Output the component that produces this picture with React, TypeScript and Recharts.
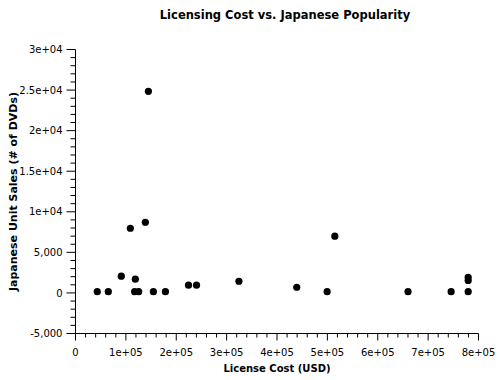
import React from 'react';
import { ScatterChart, Scatter, XAxis, YAxis } from 'recharts';

// license cost in USD
const licenseCost = [
  43200, 65100, 90900, 108900, 117400, 118800, 125400, 138700, 144700, 154600,
  178500, 224300, 240200, 324400, 439200, 499500, 514800, 660100, 745700, 779500,
  779500, 779500,
];

// japanese unit sales (# of DVDs)
const unitSales = [
  150, 150, 2060, 7970, 150, 1690, 150, 8710, 24850, 150,
  150, 950, 950, 1440, 700, 150, 6990, 150, 150, 150,
  1530, 1930,
];

const xMajorTicks = [0, 100000, 200000, 300000, 400000, 500000, 600000, 700000, 800000];
const xTickLabels = ['0', '1e+05', '2e+05', '3e+05', '4e+05', '5e+05', '6e+05', '7e+05', '8e+05'];
const yMajorTicks = [-5000, 0, 5000, 10000, 15000, 20000, 25000, 30000];
const yTickLabels = ['-5,000', '0', '5,000', '1e+04', '1.5e+04', '2e+04', '2.5e+04', '3e+04'];

// minor ticks: every 20000 on x, every 1000 on y
const xTicks = Array.from({ length: 41 }, (_, i) => i * 20000);
const yTicks = Array.from({ length: 36 }, (_, i) => -5000 + i * 1000);

const points = licenseCost.map((cost, i) => ({ cost, sales: unitSales[i] }));

const XTick = (props: any) => {
  const { x, y, payload } = props;
  const idx = xMajorTicks.indexOf(payload.value);
  const major = idx >= 0;
  return (
    <g>
      <line x1={x} x2={x} y1={y} y2={y + (major ? 7 : 4)} stroke="#000" />
      {major && (
        <text x={x} y={y + 22} textAnchor="middle" fontSize={10} fill="#000">
          {xTickLabels[idx]}
        </text>
      )}
    </g>
  );
};

const YTick = (props: any) => {
  const { x, y, payload } = props;
  const idx = yMajorTicks.indexOf(payload.value);
  const major = idx >= 0;
  return (
    <g>
      <line x1={x - (major ? 9 : 5)} x2={x} y1={y} y2={y} stroke="#000" />
      {major && (
        <text x={x - 13} y={y} dy="0.36em" textAnchor="end" fontSize={10} fill="#000">
          {yTickLabels[idx]}
        </text>
      )}
    </g>
  );
};

const YLabel = (props: any) => {
  const { viewBox } = props;
  const cx = viewBox.x + 13;
  const cy = viewBox.y + viewBox.height / 2;
  return (
    <text
      x={cx}
      y={cy}
      dy="0.36em"
      transform={`rotate(-90 ${cx} ${cy})`}
      textAnchor="middle"
      fontSize={11}
      fontWeight="bold"
      fill="#000"
    >
      Japanese Unit Sales (# of DVDs)
    </text>
  );
};

const Dot = (props: any) => <circle cx={props.cx} cy={props.cy} r={3.6} fill="#000" />;

export default function App() {
  return (
    <div style={{ position: 'absolute', left: 0, top: 0, width: 500, height: 380, fontFamily: 'DejaVu Sans', background: '#fff' }}>
      <div
        style={{
          position: 'absolute',
          left: 0,
          top: 8,
          width: 570,
          textAlign: 'center',
          fontSize: 11.5,
          fontWeight: 'bold',
          lineHeight: '14px',
        }}
      >
        Licensing Cost vs. Japanese Popularity
      </div>
      <ScatterChart
        width={500}
        height={380}
        margin={{ top: 49.5, right: 21.5, bottom: 0, left: 0 }}
      >
        <XAxis
          type="number"
          dataKey="cost"
          domain={[0, 800000]}
          ticks={xTicks}
          interval={0}
          tick={<XTick />}
          tickLine={false}
          tickSize={0}
          tickMargin={0}
          axisLine={{ stroke: '#000' }}
          height={46.5}
          label={{ value: 'License Cost (USD)', position: 'insideBottom', offset: 8, fill: '#000', fontSize: 10, fontWeight: 'bold' }}
        />
        <YAxis
          type="number"
          dataKey="sales"
          domain={[-5000, 30000]}
          ticks={yTicks}
          interval={0}
          tick={<YTick />}
          tickLine={false}
          tickSize={0}
          tickMargin={0}
          axisLine={{ stroke: '#000' }}
          width={75.5}
          label={{ content: <YLabel /> }}
        />
        <Scatter data={points} fill="#000" shape={<Dot />} isAnimationActive={false} />
      </ScatterChart>
    </div>
  );
}
